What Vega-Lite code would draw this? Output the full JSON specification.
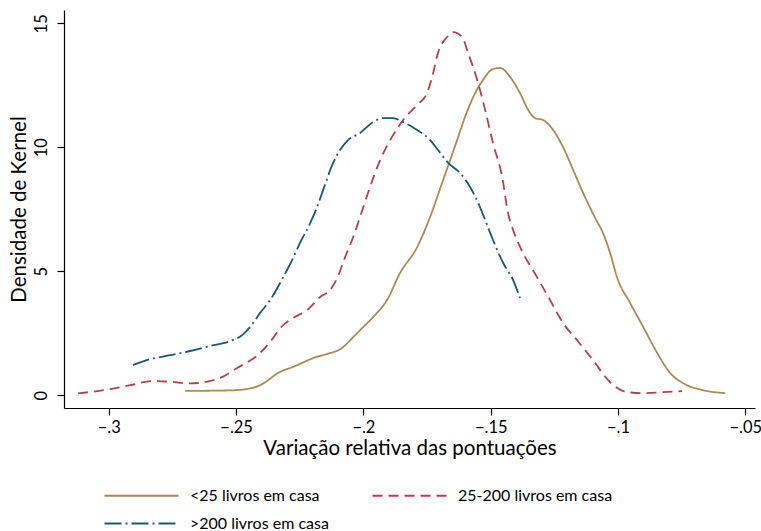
{
  "$schema": "https://vega.github.io/schema/vega-lite/v6.json",
  "width": 691,
  "height": 398,
  "autosize": {"type": "none"},
  "padding": {"left": 64, "top": 10, "right": 6, "bottom": 123},
  "background": "white",
  "config": {
    "view": {"stroke": null},
    "font": "Lato",
    "axis": {"grid": false, "domainColor": "black", "tickColor": "black", "labelColor": "black", "titleColor": "black", "domainWidth": 1.2, "tickWidth": 1.2, "tickSize": 7, "labelFont": "Lato", "titleFont": "Lato", "labelFontSize": 16.5, "titleFontSize": 20.5, "titleFontWeight": "normal"},
    "legend": {"labelFont": "Lato", "labelFontSize": 16, "labelColor": "black"}
  },
  "data": {
    "values": [
      {"g": "<25 livros em casa", "x": -0.2700, "y": 0.17},
      {"g": "<25 livros em casa", "x": -0.2524, "y": 0.19},
      {"g": "<25 livros em casa", "x": -0.2445, "y": 0.27},
      {"g": "<25 livros em casa", "x": -0.2406, "y": 0.40},
      {"g": "<25 livros em casa", "x": -0.2327, "y": 0.94},
      {"g": "<25 livros em casa", "x": -0.2276, "y": 1.14},
      {"g": "<25 livros em casa", "x": -0.2182, "y": 1.55},
      {"g": "<25 livros em casa", "x": -0.2143, "y": 1.66},
      {"g": "<25 livros em casa", "x": -0.2084, "y": 1.90},
      {"g": "<25 livros em casa", "x": -0.2040, "y": 2.34},
      {"g": "<25 livros em casa", "x": -0.2013, "y": 2.62},
      {"g": "<25 livros em casa", "x": -0.1962, "y": 3.15},
      {"g": "<25 livros em casa", "x": -0.1907, "y": 3.84},
      {"g": "<25 livros em casa", "x": -0.1856, "y": 4.93},
      {"g": "<25 livros em casa", "x": -0.1789, "y": 5.97},
      {"g": "<25 livros em casa", "x": -0.1738, "y": 7.19},
      {"g": "<25 livros em casa", "x": -0.1687, "y": 8.68},
      {"g": "<25 livros em casa", "x": -0.1659, "y": 9.49},
      {"g": "<25 livros em casa", "x": -0.1632, "y": 10.29},
      {"g": "<25 livros em casa", "x": -0.1601, "y": 11.22},
      {"g": "<25 livros em casa", "x": -0.1561, "y": 12.19},
      {"g": "<25 livros em casa", "x": -0.1530, "y": 12.72},
      {"g": "<25 livros em casa", "x": -0.1491, "y": 13.16},
      {"g": "<25 livros em casa", "x": -0.1463, "y": 13.20},
      {"g": "<25 livros em casa", "x": -0.1424, "y": 12.84},
      {"g": "<25 livros em casa", "x": -0.1385, "y": 12.19},
      {"g": "<25 livros em casa", "x": -0.1353, "y": 11.51},
      {"g": "<25 livros em casa", "x": -0.1326, "y": 11.18},
      {"g": "<25 livros em casa", "x": -0.1294, "y": 11.10},
      {"g": "<25 livros em casa", "x": -0.1255, "y": 10.70},
      {"g": "<25 livros em casa", "x": -0.1216, "y": 10.01},
      {"g": "<25 livros em casa", "x": -0.1176, "y": 9.08},
      {"g": "<25 livros em casa", "x": -0.1137, "y": 8.16},
      {"g": "<25 livros em casa", "x": -0.1090, "y": 7.15},
      {"g": "<25 livros em casa", "x": -0.1059, "y": 6.54},
      {"g": "<25 livros em casa", "x": -0.1030, "y": 5.70},
      {"g": "<25 livros em casa", "x": -0.1004, "y": 4.76},
      {"g": "<25 livros em casa", "x": -0.0952, "y": 3.71},
      {"g": "<25 livros em casa", "x": -0.0901, "y": 2.75},
      {"g": "<25 livros em casa", "x": -0.0846, "y": 1.70},
      {"g": "<25 livros em casa", "x": -0.0795, "y": 0.89},
      {"g": "<25 livros em casa", "x": -0.0744, "y": 0.48},
      {"g": "<25 livros em casa", "x": -0.0666, "y": 0.20},
      {"g": "<25 livros em casa", "x": -0.0579, "y": 0.08},

      {"g": "25-200 livros em casa", "x": -0.3121, "y": 0.07},
      {"g": "25-200 livros em casa", "x": -0.2995, "y": 0.24},
      {"g": "25-200 livros em casa", "x": -0.2916, "y": 0.40},
      {"g": "25-200 livros em casa", "x": -0.2826, "y": 0.57},
      {"g": "25-200 livros em casa", "x": -0.2759, "y": 0.54},
      {"g": "25-200 livros em casa", "x": -0.2681, "y": 0.47},
      {"g": "25-200 livros em casa", "x": -0.2563, "y": 0.69},
      {"g": "25-200 livros em casa", "x": -0.2496, "y": 1.09},
      {"g": "25-200 livros em casa", "x": -0.2406, "y": 1.70},
      {"g": "25-200 livros em casa", "x": -0.2355, "y": 2.30},
      {"g": "25-200 livros em casa", "x": -0.2327, "y": 2.70},
      {"g": "25-200 livros em casa", "x": -0.2276, "y": 3.11},
      {"g": "25-200 livros em casa", "x": -0.2221, "y": 3.43},
      {"g": "25-200 livros em casa", "x": -0.2170, "y": 3.96},
      {"g": "25-200 livros em casa", "x": -0.2131, "y": 4.24},
      {"g": "25-200 livros em casa", "x": -0.2103, "y": 4.72},
      {"g": "25-200 livros em casa", "x": -0.2072, "y": 5.57},
      {"g": "25-200 livros em casa", "x": -0.2040, "y": 6.38},
      {"g": "25-200 livros em casa", "x": -0.2013, "y": 7.19},
      {"g": "25-200 livros em casa", "x": -0.1982, "y": 8.16},
      {"g": "25-200 livros em casa", "x": -0.1934, "y": 9.49},
      {"g": "25-200 livros em casa", "x": -0.1895, "y": 10.29},
      {"g": "25-200 livros em casa", "x": -0.1844, "y": 11.10},
      {"g": "25-200 livros em casa", "x": -0.1789, "y": 11.71},
      {"g": "25-200 livros em casa", "x": -0.1750, "y": 12.19},
      {"g": "25-200 livros em casa", "x": -0.1730, "y": 12.84},
      {"g": "25-200 livros em casa", "x": -0.1707, "y": 13.81},
      {"g": "25-200 livros em casa", "x": -0.1671, "y": 14.45},
      {"g": "25-200 livros em casa", "x": -0.1648, "y": 14.65},
      {"g": "25-200 livros em casa", "x": -0.1612, "y": 14.45},
      {"g": "25-200 livros em casa", "x": -0.1589, "y": 13.81},
      {"g": "25-200 livros em casa", "x": -0.1553, "y": 12.72},
      {"g": "25-200 livros em casa", "x": -0.1522, "y": 11.51},
      {"g": "25-200 livros em casa", "x": -0.1491, "y": 10.17},
      {"g": "25-200 livros em casa", "x": -0.1455, "y": 8.80},
      {"g": "25-200 livros em casa", "x": -0.1432, "y": 7.35},
      {"g": "25-200 livros em casa", "x": -0.1412, "y": 6.66},
      {"g": "25-200 livros em casa", "x": -0.1373, "y": 5.73},
      {"g": "25-200 livros em casa", "x": -0.1318, "y": 4.76},
      {"g": "25-200 livros em casa", "x": -0.1267, "y": 3.84},
      {"g": "25-200 livros em casa", "x": -0.1216, "y": 2.91},
      {"g": "25-200 livros em casa", "x": -0.1161, "y": 2.22},
      {"g": "25-200 livros em casa", "x": -0.1098, "y": 1.41},
      {"g": "25-200 livros em casa", "x": -0.1031, "y": 0.52},
      {"g": "25-200 livros em casa", "x": -0.0964, "y": 0.12},
      {"g": "25-200 livros em casa", "x": -0.0901, "y": 0.08},
      {"g": "25-200 livros em casa", "x": -0.0823, "y": 0.12},
      {"g": "25-200 livros em casa", "x": -0.0748, "y": 0.16},

      {"g": ">200 livros em casa", "x": -0.2905, "y": 1.21},
      {"g": ">200 livros em casa", "x": -0.2838, "y": 1.45},
      {"g": ">200 livros em casa", "x": -0.2759, "y": 1.61},
      {"g": ">200 livros em casa", "x": -0.2681, "y": 1.78},
      {"g": ">200 livros em casa", "x": -0.2602, "y": 1.98},
      {"g": ">200 livros em casa", "x": -0.2524, "y": 2.18},
      {"g": ">200 livros em casa", "x": -0.2476, "y": 2.42},
      {"g": ">200 livros em casa", "x": -0.2433, "y": 2.91},
      {"g": ">200 livros em casa", "x": -0.2406, "y": 3.31},
      {"g": ">200 livros em casa", "x": -0.2366, "y": 3.84},
      {"g": ">200 livros em casa", "x": -0.2315, "y": 4.76},
      {"g": ">200 livros em casa", "x": -0.2280, "y": 5.45},
      {"g": ">200 livros em casa", "x": -0.2249, "y": 6.14},
      {"g": ">200 livros em casa", "x": -0.2209, "y": 6.94},
      {"g": ">200 livros em casa", "x": -0.2182, "y": 7.59},
      {"g": ">200 livros em casa", "x": -0.2158, "y": 8.28},
      {"g": ">200 livros em casa", "x": -0.2119, "y": 9.37},
      {"g": ">200 livros em casa", "x": -0.2092, "y": 9.89},
      {"g": ">200 livros em casa", "x": -0.2060, "y": 10.29},
      {"g": ">200 livros em casa", "x": -0.2013, "y": 10.58},
      {"g": ">200 livros em casa", "x": -0.1962, "y": 11.02},
      {"g": ">200 livros em casa", "x": -0.1923, "y": 11.18},
      {"g": ">200 livros em casa", "x": -0.1883, "y": 11.18},
      {"g": ">200 livros em casa", "x": -0.1844, "y": 11.02},
      {"g": ">200 livros em casa", "x": -0.1789, "y": 10.70},
      {"g": ">200 livros em casa", "x": -0.1738, "y": 10.29},
      {"g": ">200 livros em casa", "x": -0.1707, "y": 9.89},
      {"g": ">200 livros em casa", "x": -0.1667, "y": 9.37},
      {"g": ">200 livros em casa", "x": -0.1620, "y": 8.96},
      {"g": ">200 livros em casa", "x": -0.1581, "y": 8.40},
      {"g": ">200 livros em casa", "x": -0.1549, "y": 7.75},
      {"g": ">200 livros em casa", "x": -0.1522, "y": 7.07},
      {"g": ">200 livros em casa", "x": -0.1491, "y": 6.26},
      {"g": ">200 livros em casa", "x": -0.1451, "y": 5.33},
      {"g": ">200 livros em casa", "x": -0.1412, "y": 4.64},
      {"g": ">200 livros em casa", "x": -0.1385, "y": 3.92}
    ]
  },
  "mark": {"type": "line", "strokeWidth": 1.8, "interpolate": "monotone", "clip": true},
  "encoding": {
    "x": {
      "field": "x", "type": "quantitative",
      "scale": {"domain": [-0.3176, -0.0462], "nice": false, "zero": false},
      "axis": {"values": [-0.3, -0.25, -0.2, -0.15, -0.1, -0.05], "labelExpr": "replace(format(datum.value, '.2~f'), '0.', '.')", "labelPadding": 4, "title": "Variação relativa das pontuações", "titlePadding": 3, "labelFlush": false}
    },
    "y": {
      "field": "y", "type": "quantitative",
      "scale": {"domain": [-0.52, 15.54], "nice": false, "zero": false},
      "axis": {"values": [0, 5, 10, 15], "labelAngle": -90, "labelAlign": "center", "labelBaseline": "bottom", "labelPadding": 8, "title": "Densidade de Kernel", "titlePadding": 4, "labelFlush": false}
    },
    "color": {
      "field": "g", "type": "nominal",
      "scale": {"domain": ["<25 livros em casa", "25-200 livros em casa", ">200 livros em casa"], "range": ["#A98A58", "#B5404D", "#1E5673"]},
      "legend": {"title": null, "orient": "none", "direction": "horizontal", "legendX": 69, "legendY": 477, "columns": 2, "symbolType": "M-5,0H5", "symbolSize": 219, "symbolStrokeWidth": 1.8, "labelOffset": 40, "columnPadding": 39, "rowPadding": 11, "padding": 0}
    },
    "strokeDash": {
      "field": "g", "type": "nominal",
      "scale": {"domain": ["<25 livros em casa", "25-200 livros em casa", ">200 livros em casa"], "range": [[1, 0], [10, 6], [17, 4, 2, 4]]},
      "legend": {"title": null, "orient": "none", "direction": "horizontal", "legendX": 69, "legendY": 477, "columns": 2, "symbolType": "M-5,0H5", "symbolSize": 219, "symbolStrokeWidth": 1.8, "labelOffset": 40, "columnPadding": 39, "rowPadding": 11, "padding": 0}
    }
  }
}
